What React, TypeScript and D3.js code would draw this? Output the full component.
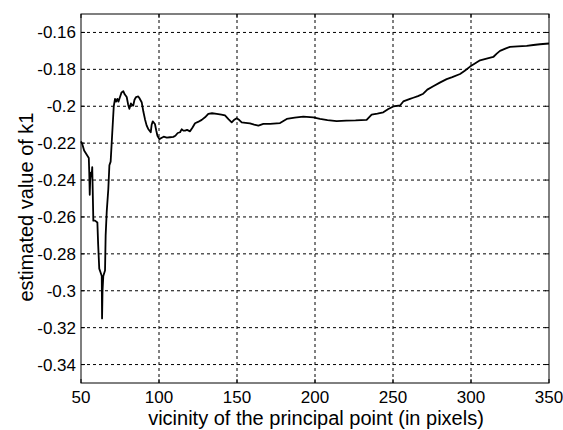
import React from "react";
import * as d3 from "d3";

// vicinity of the principal point (pixels)
const vicinity = [
  50, 50.8, 52, 53.5, 55, 55.3, 55.6, 55.9, 56.3, 56.8, 57.2, 57.5, 57.9, 59, 60.5, 61, 61.7, 62.5, 63.3, 63.5,
  63.8, 64.3, 65.4, 65.8, 66.5, 67.5, 68.2, 69, 70, 71, 71.8, 72.5, 73.3, 74, 75, 76, 77.1, 78, 79.3, 80.2,
  81, 82, 82.8, 83.5, 84.3, 85.3, 86.7, 87.4, 88.9, 90, 91, 92.1, 93.1, 94.7, 95.3, 96, 97.4, 98.2, 99, 100.2,
  101.5, 103, 105, 107, 109.2, 110.5, 112, 113.5, 114.5, 115.6, 116.7, 118, 119.9, 121.5, 123.1, 125, 127.4, 129.5, 131.6, 134,
  137, 140, 142.3, 144.5, 146.6, 148, 149.8, 151.5, 153, 155.5, 158.3, 161, 163.7, 166.9, 171.2, 177.6, 181.9, 187, 192.5, 198.9,
  203.2, 208, 213.9, 220, 226, 233.1, 236.3, 240, 243.8, 247, 250.2, 254.5, 256.6, 260.9, 263, 266, 269.4, 272, 275.8, 280,
  284.4, 288, 293, 296, 299.4, 302.5, 305.8, 310, 314.3, 316.5, 318.6, 322, 325, 330, 335.7, 340, 344.2, 350,
];

// estimated value of k1
const k1 = [
  -0.219, -0.2205, -0.224, -0.226, -0.228, -0.236, -0.248, -0.24, -0.236, -0.238, -0.233, -0.245, -0.262, -0.262, -0.263, -0.275, -0.288, -0.29, -0.292, -0.315,
  -0.3, -0.292, -0.289, -0.27, -0.257, -0.245, -0.232, -0.23, -0.215, -0.2, -0.196, -0.1975, -0.196, -0.1975, -0.195, -0.1925, -0.1918, -0.1935, -0.195, -0.199,
  -0.2014, -0.1985, -0.1995, -0.1996, -0.1965, -0.195, -0.1947, -0.1955, -0.1978, -0.203, -0.207, -0.2105, -0.2123, -0.2141, -0.21, -0.2082, -0.2096, -0.213, -0.216, -0.2178,
  -0.2172, -0.2165, -0.217, -0.2168, -0.2166, -0.216, -0.2145, -0.2141, -0.2125, -0.2132, -0.2132, -0.2128, -0.2136, -0.2115, -0.2092, -0.2085, -0.2074, -0.206, -0.2041, -0.2038,
  -0.2041, -0.2045, -0.205, -0.207, -0.2087, -0.2075, -0.2065, -0.2075, -0.2087, -0.209, -0.2093, -0.21, -0.2105, -0.2096, -0.2095, -0.2091, -0.2069, -0.2062, -0.2056, -0.206,
  -0.2069, -0.2075, -0.2081, -0.2078, -0.2077, -0.2074, -0.2045, -0.204, -0.2033, -0.2015, -0.2001, -0.1996, -0.1974, -0.196, -0.1954, -0.1945, -0.1932, -0.191, -0.1892, -0.1872,
  -0.1853, -0.1842, -0.1825, -0.1808, -0.1785, -0.1768, -0.1751, -0.1742, -0.1733, -0.1715, -0.17, -0.1688, -0.1678, -0.1676, -0.1673, -0.1668, -0.1664, -0.166,
];

const xTicks = [50, 100, 150, 200, 250, 300, 350];
const yTicks = [-0.34, -0.32, -0.3, -0.28, -0.26, -0.24, -0.22, -0.2, -0.18, -0.16];

const width = 563;
const height = 430;
const margin = { top: 14, right: 14, bottom: 47, left: 81 };
const font = "Arial, 'Liberation Sans', sans-serif";
const tickLen = 4;

export default function App() {
  const x = d3
    .scaleLinear()
    .domain([50, 350])
    .range([margin.left, width - margin.right]);
  const y = d3
    .scaleLinear()
    .domain([-0.35, -0.15])
    .range([height - margin.bottom, margin.top]);

  const points: [number, number][] = vicinity.map((v, i) => [v, k1[i]]);
  const line = d3
    .line<[number, number]>()
    .x((d) => x(d[0]))
    .y((d) => y(d[1]));

  const fmt = (v: number) => String(+v.toFixed(2));
  const [x0, x1] = x.range();
  const [y0, y1] = y.range();

  return (
    <svg
      width={width}
      height={height}
      style={{ position: "absolute", left: 0, top: 0, background: "#fff" }}
      fontFamily={font}
    >
      <rect x={0} y={0} width={width} height={height} fill="#fff" />
      {/* grid */}
      <g stroke="#000" strokeWidth={1} strokeDasharray="3,3">
        {xTicks.slice(1, -1).map((t) => (
          <line key={"gx" + t} x1={x(t)} x2={x(t)} y1={y0} y2={y1} />
        ))}
        {yTicks.map((t) => (
          <line key={"gy" + t} x1={x0} x2={x1} y1={y(t)} y2={y(t)} />
        ))}
      </g>
      {/* data */}
      <path d={line(points) || ""} fill="none" stroke="#000" strokeWidth={1.8} strokeLinejoin="round" />
      {/* box + inner ticks */}
      <rect x={x0} y={y1} width={x1 - x0} height={y0 - y1} fill="none" stroke="#000" strokeWidth={1} />
      <g stroke="#000" strokeWidth={1}>
        {xTicks.map((t) => (
          <g key={"kx" + t}>
            <line x1={x(t)} x2={x(t)} y1={y0} y2={y0 - tickLen} />
            <line x1={x(t)} x2={x(t)} y1={y1} y2={y1 + tickLen} />
          </g>
        ))}
        {yTicks.map((t) => (
          <g key={"ky" + t}>
            <line x1={x0} x2={x0 + tickLen} y1={y(t)} y2={y(t)} />
            <line x1={x1} x2={x1 - tickLen} y1={y(t)} y2={y(t)} />
          </g>
        ))}
      </g>
      {/* tick labels */}
      <g fontSize={17} fill="#000">
        {xTicks.map((t) => (
          <text key={"tx" + t} x={x(t)} y={y0 + 20} textAnchor="middle">
            {t}
          </text>
        ))}
        {yTicks.map((t) => (
          <text key={"ty" + t} x={x0 - 5} y={y(t) + 6} textAnchor="end">
            {fmt(t)}
          </text>
        ))}
      </g>
      <text x={x(200) + 1} y={425} textAnchor="middle" fontSize={20}>
        vicinity of the principal point (in pixels)
      </text>
      <text transform={`translate(33,207) rotate(-90)`} textAnchor="middle" fontSize={20}>
        estimated value of k1
      </text>
    </svg>
  );
}
